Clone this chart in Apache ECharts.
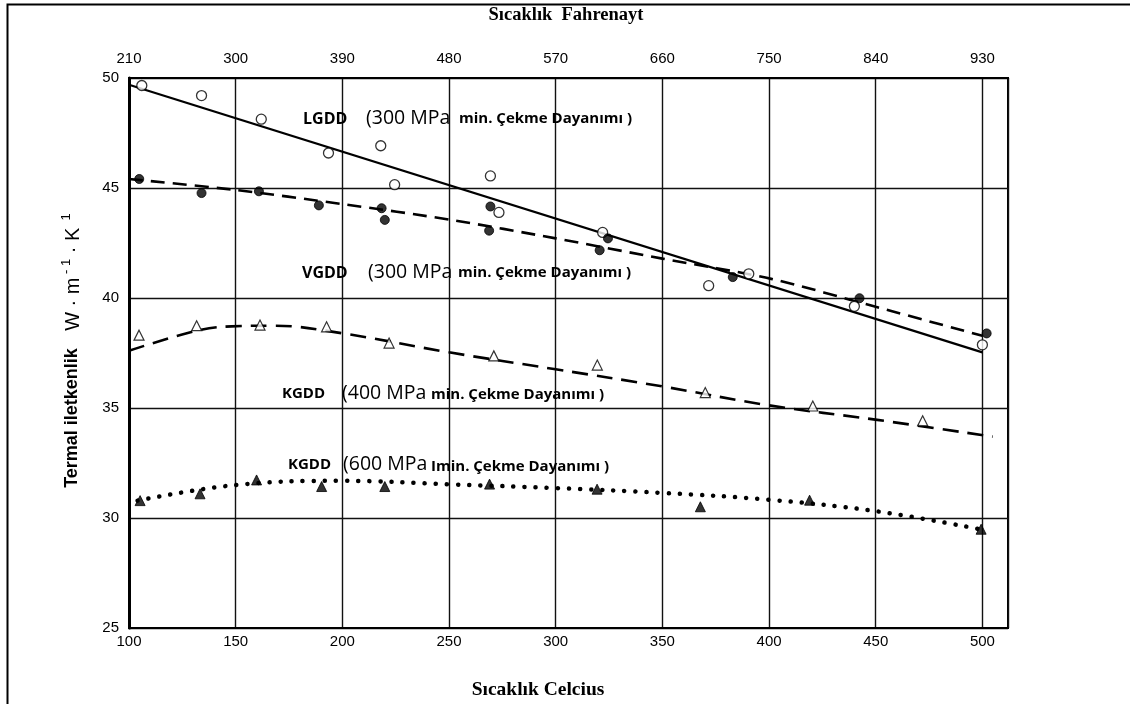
<!DOCTYPE html>
<html>
<head>
<meta charset="utf-8">
<script src="https://cdn.jsdelivr.net/npm/echarts@6/dist/echarts.min.js"></script>
<style>
html,body{margin:0;padding:0;background:#fff;}
#chart{width:1130px;height:704px;}
</style>
</head>
<body>
<div id="chart"></div>
<script>
// ---- data ----
var celsiusTicks = [100, 150, 200, 250, 300, 350, 400, 450, 500];
// the Fahrenheit labels printed above the Celsius grid lines
var fahrenheitTicks = [210, 300, 390, 480, 570, 660, 750, 840, 930];

// LGDD (300 MPa) - open circles, solid fit line
var lgddX = [106, 134, 162, 193.5, 218, 224.5, 269.4, 273.4, 322, 371.7, 390.5, 440, 500];
var lgddY = [49.66, 49.2, 48.13, 46.59, 46.92, 45.15, 45.55, 43.89, 42.98, 40.56, 41.1, 39.62, 37.87];
var lgddFitX = [100, 500];
var lgddFitY = [49.69, 37.53];

// VGDD (300 MPa) - filled circles, dashed curve
var vgddX = [104.8, 134, 160.9, 189, 218.4, 219.9, 269.4, 268.8, 324.5, 320.6, 383, 442.4, 502];
var vgddY = [45.41, 44.77, 44.85, 44.21, 44.08, 43.55, 44.16, 43.06, 42.71, 42.17, 40.95, 39.99, 38.39];
var vgddFitX = [100, 149, 200, 251, 300, 350, 401, 450, 500];
var vgddFitY = [45.41, 44.92, 44.27, 43.55, 42.71, 41.79, 40.87, 39.6, 38.28];

// KGDD (400 MPa) - open triangles, long-dashed curve
var kg400X = [104.7, 131.7, 161.4, 192.6, 221.9, 271, 319.5, 370.1, 420.5, 472];
var kg400Y = [38.31, 38.74, 38.77, 38.69, 37.95, 37.37, 36.95, 35.7, 35.09, 34.42];
var kg400FitX = [100, 131.7, 148, 167.6, 199.6, 250, 300, 350, 400, 450.7, 504.8];
var kg400FitY = [37.6, 38.51, 38.71, 38.74, 38.4, 37.53, 36.76, 35.98, 35.12, 34.46, 33.7];

// KGDD (600 MPa) - filled triangles, dotted curve
var kg600X = [105.2, 133.3, 159.8, 190.3, 219.9, 269, 319.4, 367.8, 419, 499.4];
var kg600Y = [30.79, 31.10, 31.73, 31.43, 31.43, 31.54, 31.31, 30.51, 30.81, 29.49];
var kg600FitX = [104, 150, 200, 250, 300, 350, 400, 450, 500];
var kg600FitY = [30.79, 31.5, 31.69, 31.53, 31.36, 31.14, 30.83, 30.31, 29.47];

function pairs(xs, ys) { return xs.map(function (x, i) { return [x, ys[i]]; }); }

var tickFont = '"Liberation Sans Narrow", "Arial Narrow", "Liberation Sans", sans-serif';
var annFont = '"Open Sans", "Noto Sans", sans-serif';

var chart = echarts.init(document.getElementById('chart'), null, {renderer: 'canvas'});

var option = {
  backgroundColor: '#fff',
  animation: false,
  grid: {
    left: 129, right: 122, top: 78, bottom: 76,
    show: true, borderColor: '#000', borderWidth: 2, backgroundColor: 'transparent'
  },
  xAxis: [
    {
      type: 'value', position: 'bottom', min: 100, max: 512,
      interval: 50,
      axisLine: {show: true, lineStyle: {color: '#000', width: 2}},
      axisTick: {show: false},
      axisLabel: {
        color: '#000', fontFamily: tickFont, fontSize: 15, margin: 6,
        customValues: celsiusTicks,
        formatter: function (v) { return String(v); }
      },
      splitLine: {show: true, lineStyle: {color: '#111', width: 1.4}}
    },
    {
      type: 'value', position: 'top', min: 100, max: 512,
      axisLine: {show: true, lineStyle: {color: '#000', width: 2}},
      axisTick: {show: false},
      axisLabel: {
        color: '#000', fontFamily: tickFont, fontSize: 15, margin: 12,
        customValues: celsiusTicks,
        formatter: function (v) {
          var i = celsiusTicks.indexOf(Math.round(v));
          return i >= 0 ? String(fahrenheitTicks[i]) : '';
        }
      },
      splitLine: {show: false}
    }
  ],
  yAxis: [
    {
      type: 'value', min: 25, max: 50, interval: 5,
      axisLine: {show: true, lineStyle: {color: '#000', width: 3}},
      axisTick: {show: false},
      axisLabel: {color: '#000', fontFamily: tickFont, fontSize: 15, margin: 10},
      splitLine: {show: true, lineStyle: {color: '#111', width: 1.4}}
    }
  ],
  series: [
    {
      type: 'line', data: pairs(lgddFitX, lgddFitY), showSymbol: false, symbol: 'none',
      lineStyle: {color: '#000', width: 2.2, type: 'solid'}, z: 3
    },
    {
      type: 'line', data: pairs(vgddFitX, vgddFitY), showSymbol: false, symbol: 'none', smooth: 0.3,
      lineStyle: {color: '#000', width: 2.6, type: [14, 8]}, z: 3
    },
    {
      type: 'line', data: pairs(kg400FitX, kg400FitY), showSymbol: false, symbol: 'none', smooth: 0.4,
      lineStyle: {color: '#000', width: 2.6, type: [16, 9]}, z: 3
    },
    {
      type: 'line', data: pairs(kg600FitX, kg600FitY), showSymbol: false, symbol: 'none', smooth: 0.4,
      lineStyle: {color: '#000', width: 4.5, type: [0.1, 11], cap: 'round'}, z: 3
    },
    {
      type: 'scatter', data: pairs(lgddX, lgddY), symbol: 'circle', symbolSize: 10,
      itemStyle: {color: '#fff', borderColor: '#000', borderWidth: 1.3}, z: 5
    },
    {
      type: 'scatter', data: pairs(vgddX, vgddY), symbol: 'circle', symbolSize: 9,
      itemStyle: {color: '#000', borderColor: '#000', borderWidth: 1}, z: 5
    },
    {
      type: 'scatter', data: pairs(kg400X, kg400Y), symbol: 'triangle', symbolSize: 10,
      itemStyle: {color: '#fff', borderColor: '#000', borderWidth: 1.2}, z: 5
    },
    {
      type: 'scatter', data: pairs(kg600X, kg600Y), symbol: 'triangle', symbolSize: 10,
      itemStyle: {color: '#000', borderColor: '#000', borderWidth: 1}, z: 5
    }
  ],
  graphic: [
    {type: 'rect', left: 5, top: 2, shape: {width: 1200, height: 800}, z: -1,
      style: {fill: 'none', stroke: '#000', lineWidth: 2}, silent: true},
    // top & bottom axis titles
    {type: 'text', x: 566, y: 15, z: 10, style: {text: 'Sıcaklık  Fahrenayt', align: 'center', verticalAlign: 'middle',
      font: 'bold 18.5px "Liberation Serif", serif', fill: '#000'}},
    {type: 'text', x: 538, y: 690, z: 10, style: {text: 'Sıcaklık Celcius', align: 'center', verticalAlign: 'middle',
      font: 'bold 19.5px "Liberation Serif", serif', fill: '#000'}},
    // y axis title (rotated)
    {type: 'text', x: 72, y: 418, rotation: Math.PI / 2, z: 10, style: {text: 'Termal iletkenlik', align: 'center', verticalAlign: 'middle',
      font: 'bold 18px "Liberation Sans", Arial, sans-serif', fill: '#000'}},
    {type: 'text', x: 73, y: 272, rotation: Math.PI / 2, z: 10, style: {
      text: '{n|W · m}{s| - 1}{n| · K}{s|  1}', align: 'center', verticalAlign: 'middle',
      rich: {
        n: {font: '20px "Liberation Sans", Arial, sans-serif', fill: '#000'},
        s: {font: '13px "Liberation Sans", Arial, sans-serif', fill: '#000', verticalAlign: 'top', padding: [0, 0, 13, 0]}
      }}},
    // annotations
    {type: 'text', x: 303, y: 119, z: 10, style: {text: 'LGDD', verticalAlign: 'middle', font: 'bold 16px ' + annFont, fill: '#000'}},
    {type: 'text', x: 366, y: 118, z: 10, style: {text: '(300 MPa', verticalAlign: 'middle', font: '19.5px ' + annFont, fill: '#000'}},
    {type: 'text', x: 459, y: 119, z: 10, style: {text: 'min. Çekme Dayanımı )', verticalAlign: 'middle', font: 'bold 15px ' + annFont, fill: '#000'}},

    {type: 'text', x: 302, y: 273, z: 10, style: {text: 'VGDD', verticalAlign: 'middle', font: 'bold 16px ' + annFont, fill: '#000'}},
    {type: 'text', x: 368, y: 272, z: 10, style: {text: '(300 MPa', verticalAlign: 'middle', font: '19.5px ' + annFont, fill: '#000'}},
    {type: 'text', x: 458, y: 273, z: 10, style: {text: 'min. Çekme Dayanımı )', verticalAlign: 'middle', font: 'bold 15px ' + annFont, fill: '#000'}},

    {type: 'text', x: 282, y: 394, z: 10, style: {text: 'KGDD', verticalAlign: 'middle', font: 'bold 15px ' + annFont, fill: '#000'}},
    {type: 'text', x: 342, y: 393, z: 10, style: {text: '(400 MPa', verticalAlign: 'middle', font: '19.5px ' + annFont, fill: '#000'}},
    {type: 'text', x: 431, y: 395, z: 10, style: {text: 'min. Çekme Dayanımı )', verticalAlign: 'middle', font: 'bold 15px ' + annFont, fill: '#000'}},

    {type: 'text', x: 288, y: 465, z: 10, style: {text: 'KGDD', verticalAlign: 'middle', font: 'bold 15px ' + annFont, fill: '#000'}},
    {type: 'text', x: 343, y: 464, z: 10, style: {text: '(600 MPa', verticalAlign: 'middle', font: '19.5px ' + annFont, fill: '#000'}},
    {type: 'text', x: 431, y: 467, z: 10, style: {text: 'Imin. Çekme Dayanımı )', verticalAlign: 'middle', font: 'bold 15px ' + annFont, fill: '#000'}}
  ]
};
chart.setOption(option);
</script>
</body>
</html>
